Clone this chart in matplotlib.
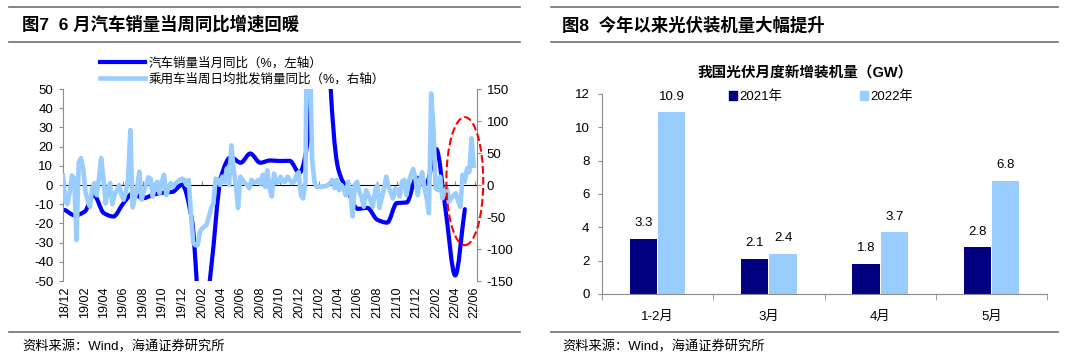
import numpy as np
import pandas as pd
import matplotlib
matplotlib.use('Agg')
import matplotlib.pyplot as plt
import matplotlib.dates as mdates
from matplotlib.patches import Ellipse, Patch, PathPatch
from matplotlib.path import Path
from matplotlib.lines import Line2D

plt.rcParams['font.family'] = ['Liberation Sans', 'Noto Sans CJK SC', 'DejaVu Sans']
plt.rcParams['axes.unicode_minus'] = False

# ---- Fig 7 data: monthly auto sales yoy (left axis) ----
month_dates = pd.date_range('2018-12-01', periods=42, freq='MS')
auto_sales_yoy = [-13.0, -15.8, -13.8, -5.2, -14.6, -16.4, -9.6, -4.3, -6.9, -5.2,
                  -4.0, -3.6, 0.1, -18.0, -79.1, -43.3, 4.4, 14.5, 11.6, 16.4,
                  11.6, 12.8, 12.5, 12.6, 6.4, 29.5, 365.0, 74.9, 8.6, -3.1,
                  -12.4, -11.9, -18.1, -19.6, -9.4, -9.1, 3.8, 0.9, 18.7, -11.7,
                  -47.1, -12.6]

# weekly passenger car daily avg wholesale yoy (right axis)
week_dates = pd.date_range('2018-11-25', periods=184, freq='7D')
car_weekly_yoy = [15, -25, -30, -10, 15, 10, -86, 35, 42, 25,
                  -10, -25, -34, -5, 3, -16, 10, 42, 10, -29,
                  -8, 3, -30, -15, -8, 0, -15, -23, -10, 10,
                  86, -35, -20, -5, 21, -23, -10, 0, 12, 10,
                  -18, 0, 5, -13, 5, 16, -16, -5, 3, -3,
                  2, 5, 8, 10, 8, 0, 8, -45, -90, -94,
                  -94, -72, -68, -65, -62, -50, -36, -29, 10, 8,
                  0, 13, 5, 26, 0, 62, 25, 0, -36, 13,
                  8, 3, 0, -5, 8, 3, 5, 8, 2, 16,
                  -3, 23, -5, -18, 18, 3, 5, 13, 5, 5,
                  13, 8, 3, 5, 15, 20, -16, -21, 5, 400,
                  200, 40, 5, -3, -3, -3, -2, -2, 0, 3,
                  8, -5, 8, -8, 0, -5, -16, 5, -10, -49,
                  0, 5, -10, -20, -34, -8, -15, -25, -34, -10,
                  0, -36, -20, -5, 13, -2, -12, -21, -5, -8,
                  -18, 5, 8, -16, 5, 16, 25, 10, -16, 8,
                  20, -3, -20, -44, 143, 90, -5, -8, 13, -21,
                  -10, -5, -26, -20, -16, -13, -25, -34, 16, 5,
                  26, 20, 73, 30]

tick_dates = pd.date_range('2018-12-01', '2022-06-01', freq='2MS')

# ---- Fig 8 data: monthly new PV installations (GW) ----
pv_months = ['1-2月', '3月', '4月', '5月']
pv_2021 = [3.3, 2.1, 1.8, 2.8]
pv_2022 = [10.9, 2.4, 3.7, 6.8]

W, H = 1080, 361
fig = plt.figure(figsize=(W / 100, H / 100), dpi=100)
grey = '#8C8C8C'
dark_blue = '#0000FF'
light_blue = '#99CCFF'


def hline(x0, x1, y):
    """ Horizontal rule in pixel coords """
    fig.add_artist(Line2D([x0 / W, x1 / W], [1 - y / H, 1 - y / H], color='#6E6E6E', lw=1.2))


def smooth_path(xs, ys):
    """ Smoothed (Excel-like) line through the points as a cubic Bezier path """
    xs = np.asarray(xs, float)
    ys = np.asarray(ys, float)
    h = np.diff(xs)
    d = np.diff(ys) / h
    m = np.zeros_like(ys)
    m[0], m[-1] = d[0], d[-1]
    for i in range(1, len(ys) - 1):
        if d[i - 1] * d[i] > 0:
            w1 = 2 * h[i] + h[i - 1]
            w2 = h[i] + 2 * h[i - 1]
            m[i] = (w1 + w2) / (w1 / d[i - 1] + w2 / d[i])
    verts = [(xs[0], ys[0])]
    codes = [Path.MOVETO]
    for i in range(len(xs) - 1):
        verts += [(xs[i] + h[i] / 3, ys[i] + m[i] * h[i] / 3),
                  (xs[i + 1] - h[i] / 3, ys[i + 1] - m[i + 1] * h[i] / 3),
                  (xs[i + 1], ys[i + 1])]
        codes += [Path.CURVE4] * 3
    return Path(verts, codes)


# Header / footer rules and texts
for x0, x1 in [(9, 520), (551, 1058)]:
    hline(x0, x1, 7)
    hline(x0, x1, 42)
    hline(x0, x1, 332)

fig.text(22 / W, 1 - 24 / H, '图7  6 月汽车销量当周同比增速回暖', fontsize=12.5, fontweight='bold',
         family=['Liberation Sans', 'Noto Sans CJK SC'], va='center', ha='left')
fig.text(562 / W, 1 - 25 / H, '图8  今年以来光伏装机量大幅提升', fontsize=12.5, fontweight='bold',
         family=['Liberation Sans', 'Noto Sans CJK SC'], va='center', ha='left')
for x in [22, 562]:
    fig.text(x / W, 1 - 347 / H, '资料来源：Wind，海通证券研究所', fontsize=9.5, va='center', ha='left')

# ---- Left chart ----
ax = fig.add_axes([63 / W, 1 - 281 / H, (477 - 63) / W, (281 - 89) / H])
ax2 = ax.twinx()

month_num = mdates.date2num(month_dates)
ax.add_patch(PathPatch(smooth_path(month_num, auto_sales_yoy), fill=False,
                       edgecolor=dark_blue, lw=3, joinstyle='round', capstyle='round'))
ax2.plot(week_dates, car_weekly_yoy, color=light_blue, lw=3.3, solid_joinstyle='round')

ax.set_ylim(-50, 50)
ax.set_yticks(range(-50, 51, 10))
ax2.set_ylim(-150, 150)
ax2.set_yticks(range(-150, 151, 50))
ax.set_xlim(pd.Timestamp('2018-11-25'), pd.Timestamp('2022-06-08'))
ax.set_xticks(tick_dates)
ax.xaxis.set_major_formatter(mdates.DateFormatter('%y/%m'))
ax.tick_params(axis='x', length=0, rotation=90, labelsize=9, pad=4)
ax.tick_params(axis='y', length=3, color=grey, labelsize=9.5, pad=4)
ax2.tick_params(axis='y', length=3, color=grey, labelsize=9.5, pad=4)

for a in (ax, ax2):
    for s in ['top', 'bottom']:
        a.spines[s].set_visible(False)
    a.spines['left'].set_color(grey)
    a.spines['right'].set_color(grey)
ax.spines['right'].set_visible(False)
ax2.spines['left'].set_visible(False)

# zero axis with ticks
zero_ax = ax.secondary_xaxis(0.5)
zero_ax.set_xticks(tick_dates, labels=[''] * len(tick_dates))
zero_ax.tick_params(axis='x', length=3, color=grey, direction='out')
zero_ax.spines['bottom'].set_color(grey)

ell = Ellipse((mdates.date2num(pd.Timestamp('2022-05-01')), 6), width=115, height=200,
              edgecolor='red', facecolor='none', ls='--', lw=1.5, clip_on=False, zorder=5)
ax2.add_patch(ell)

handles = [Line2D([], [], color=dark_blue, lw=3), Line2D([], [], color=light_blue, lw=3.3)]
fig.legend(handles, ['汽车销量当月同比（%，左轴）', '乘用车当周日均批发销量同比（%，右轴）'],
           loc='upper left', bbox_to_anchor=(100 / W, 1 - 57 / H), frameon=False, fontsize=9,
           handlelength=3.6, handletextpad=0.3, labelspacing=0.3, borderpad=0, borderaxespad=0)

# ---- Right chart ----
bx = fig.add_axes([602 / W, 1 - 294 / H, (1047 - 602) / W, (294 - 94) / H])
x = np.arange(len(pv_months))
bw = 0.245
b1 = bx.bar(x - bw / 2 - 0.005, pv_2021, bw, color='#000080', label='2021年')
b2 = bx.bar(x + bw / 2 + 0.005, pv_2022, bw, color=light_blue, label='2022年')
bx.bar_label(b1, fmt='%.1f', padding=7, fontsize=9.5)
bx.bar_label(b2, fmt='%.1f', padding=7, fontsize=9.5)

bx.set_ylim(0, 12)
bx.set_yticks(range(0, 13, 2))
bx.set_xlim(-0.5, len(pv_months) - 0.5)
bx.set_xticks(x)
bx.set_xticklabels(pv_months)
bx.set_xticks(np.arange(len(pv_months) + 1) - 0.5, minor=True)
bx.tick_params(axis='x', which='major', length=0, labelsize=9.5, pad=12)
bx.tick_params(axis='x', which='minor', length=4, color=grey)
bx.tick_params(axis='y', length=3, color=grey, labelsize=9.5, pad=6)
for s in ['top', 'right']:
    bx.spines[s].set_visible(False)
bx.spines['left'].set_color(grey)
bx.spines['bottom'].set_color(grey)

bx.legend(handles=[Patch(color='#000080'), Patch(color=light_blue)], labels=['2021年', '2022年'],
          loc='center left', bbox_to_anchor=(0.285, 0.985), ncol=2, frameon=False, fontsize=9.5,
          handlelength=0.6, handleheight=0.6, handletextpad=0.2, columnspacing=5.9,
          borderpad=0, borderaxespad=0)

fig.text(805 / W, 1 - 73 / H, '我国光伏月度新增装机量（GW）', fontsize=10.5, fontweight='bold',
         ha='center', va='center')

fig.savefig('out.png', dpi=100)
